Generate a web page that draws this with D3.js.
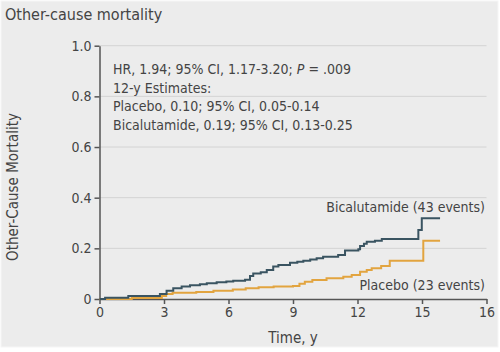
<!DOCTYPE html>
<html><head><meta charset="utf-8">
<script src="https://cdn.jsdelivr.net/npm/d3@7"></script>
<style>
html,body{margin:0;padding:0;background:#fff;}
svg{display:block;}
text{font-family:"Liberation Sans Narrow","DejaVu Sans Condensed","Roboto Condensed","Open Sans",sans-serif;}
</style></head>
<body>
<svg id="c" width="500" height="352"></svg>
<script>
// ---- data ----
const title = "Other-cause mortality";
const xLabel = "Time, y";
const yLabel = "Other-Cause Mortality";
const xTickValues = [0, 3, 6, 9, 12, 15, 18];
const xTickLabels = ["0", "3", "6", "9", "12", "15", "16"];
const yTickValues = [0, 0.2, 0.4, 0.6, 0.8, 1.0];
const yTickLabels = ["0", "0.2", "0.4", "0.6", "0.8", "1.0"];
const annotation = [
  "HR, 1.94; 95% CI, 1.17-3.20; ",
  "12-y Estimates:",
  "Placebo, 0.10; 95% CI, 0.05-0.14",
  "Bicalutamide, 0.19; 95% CI, 0.13-0.25"
];
const seriesNames = ["Bicalutamide (43 events)", "Placebo (23 events)"];
const bicaTime = [0, 0.26, 1.34, 2.81, 3.12, 3.43, 3.82, 4.21, 4.67, 4.99, 5.45, 5.9, 6.22, 6.77, 7.0, 7.15, 7.5, 7.78, 8.08, 8.32, 8.86, 9.2, 9.48, 9.8, 10.1, 10.4, 11.1, 11.42, 12.04, 12.12, 12.3, 12.43, 12.81, 13.13, 14.83, 14.99, 15.84];
const bicaRisk = [0, 0.005, 0.012, 0.02, 0.033, 0.042, 0.049, 0.054, 0.058, 0.062, 0.066, 0.069, 0.072, 0.076, 0.091, 0.101, 0.106, 0.114, 0.128, 0.134, 0.143, 0.147, 0.151, 0.156, 0.161, 0.167, 0.174, 0.191, 0.196, 0.209, 0.218, 0.226, 0.23, 0.237, 0.272, 0.319, 0.319];
const placTime = [0, 1.5, 2.9, 3.1, 3.4, 4.5, 5.3, 6.2, 6.8, 7.4, 8.1, 9.0, 9.3, 9.55, 9.9, 10.56, 11.34, 11.73, 12.12, 12.43, 12.66, 13.1, 13.5, 15.06, 15.84];
const placRisk = [0, 0.004, 0.012, 0.02, 0.025, 0.028, 0.033, 0.038, 0.042, 0.046, 0.049, 0.051, 0.06, 0.068, 0.075, 0.082, 0.088, 0.095, 0.108, 0.114, 0.121, 0.13, 0.151, 0.23, 0.23];

const colors = {bica: "#3a5461", plac: "#e2a43f", text: "#444", axis: "#555", grid: "#d3d3d3", bg: "#ececec"};

const svg = d3.select("#c");
svg.append("rect").attr("x", 1).attr("y", 1).attr("width", 497).attr("height", 346)
  .attr("fill", colors.bg).attr("stroke", "#f6f6f6").attr("stroke-width", 1);

const x = d3.scaleLinear().domain([0, 18]).range([99.5, 486.5]);
const y = d3.scaleLinear().domain([0, 1]).range([299, 45.7]);

// title
svg.append("text").attr("x", 5).attr("y", 20).attr("font-size", 16).attr("fill", colors.text).text(title);

// grid
svg.append("g").selectAll("line").data(yTickValues.filter(d => d > 0)).join("line")
  .attr("x1", x(0)).attr("x2", x(18)).attr("y1", d => y(d)).attr("y2", d => y(d))
  .attr("stroke", colors.grid).attr("stroke-width", 1);

// axes
const yAxis = d3.axisLeft(y).tickValues(yTickValues).tickFormat((d, i) => yTickLabels[i]).tickSize(5).tickSizeOuter(0).tickPadding(3);
const gy = svg.append("g").attr("transform", `translate(${x(0)},0)`).call(yAxis);
const xAxis = d3.axisBottom(x).tickValues(xTickValues).tickFormat((d, i) => xTickLabels[i]).tickSize(5).tickSizeOuter(0).tickPadding(3);
const gx = svg.append("g").attr("transform", `translate(0,${y(0)})`).call(xAxis);
[gx, gy].forEach(g => {
  g.select(".domain").attr("stroke", colors.axis).attr("stroke-width", 1.5);
  g.selectAll(".tick line").attr("stroke", colors.axis).attr("stroke-width", 1.5);
  g.selectAll(".tick text").attr("fill", colors.text).attr("font-size", 14)
    .attr("font-family", '"Liberation Sans Narrow","DejaVu Sans Condensed",sans-serif');
});

// axis titles
svg.append("text").attr("x", 293).attr("y", 343).attr("text-anchor", "middle").attr("font-size", 15).attr("fill", colors.text).text(xLabel);
svg.append("text").attr("transform", "translate(18,187) rotate(-90)").attr("text-anchor", "middle").attr("font-size", 15).attr("fill", colors.text).text(yLabel);

// curves
const line = d3.line().x(d => x(d[0])).y(d => y(d[1])).curve(d3.curveStepAfter);
svg.append("path").datum(placTime.map((t, i) => [t, placRisk[i]])).attr("d", line)
  .attr("fill", "none").attr("stroke", colors.plac).attr("stroke-width", 2);
svg.append("path").datum(bicaTime.map((t, i) => [t, bicaRisk[i]])).attr("d", line)
  .attr("fill", "none").attr("stroke", colors.bica).attr("stroke-width", 2);

// series labels
svg.append("text").attr("x", 485).attr("y", 212).attr("text-anchor", "end").attr("font-size", 14).attr("fill", colors.text).text(seriesNames[0]);
svg.append("text").attr("x", 485).attr("y", 290).attr("text-anchor", "end").attr("font-size", 14).attr("fill", colors.text).text(seriesNames[1]);

// annotation
const ann = svg.append("g").attr("font-size", 14).attr("fill", colors.text);
annotation.forEach((s, i) => {
  const t = ann.append("text").attr("x", 113).attr("y", 74 + i * 18.5).text(s);
  if (i === 0) {
    t.append("tspan").attr("font-style", "italic").text("P");
    t.append("tspan").text(" = .009");
  }
});
</script>
</body></html>
